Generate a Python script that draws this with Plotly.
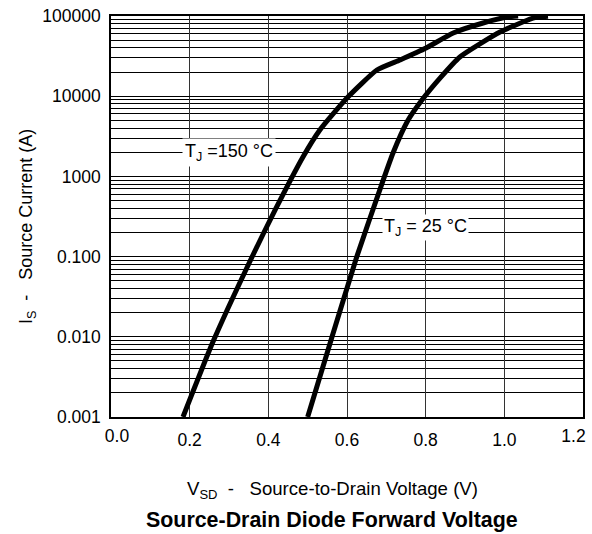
import plotly.graph_objects as go

# Curve data
v_150 = [0.183, 0.259, 0.3585, 0.417, 0.488, 0.531, 0.600, 0.676, 0.735, 0.801, 0.870, 0.946, 1.007, 1.035]
i_150 = [0.001, 0.0086, 0.099, 0.38, 1.75, 3.8, 9.5, 21.2, 28.3, 39.9, 61.4, 81.8, 97.0, 100.0]

v_25 = [0.500, 0.562, 0.625, 0.692, 0.717, 0.753, 0.791, 0.837, 0.887, 0.989, 1.073, 1.111]
i_25 = [0.001, 0.010, 0.100, 0.90, 1.96, 4.8, 9.0, 16.9, 30.8, 63.0, 94.0, 99.0]

x_ticks = [0.0, 0.2, 0.4, 0.6, 0.8, 1.0, 1.2]
x_tick_labels = ["0.0", "0.2", "0.4", "0.6", "0.8", "1.0", "1.2"]
y_ticks = [0.001, 0.01, 0.1, 1, 10, 100]
y_tick_labels = ["0.001", "0.010", "0.100", "1000", "10000", "100000"]
y_minor = [m * 10 ** e for e in range(-3, 2) for m in range(2, 10)]

FONT = "Liberation Sans, Arial, sans-serif"
TICK_SIZE = 17.5

fig = go.Figure()
fig.add_trace(go.Scatter(x=v_150, y=i_150, mode="lines", line=dict(color="black", width=5, shape="spline", smoothing=0.5),
                         showlegend=False))
fig.add_trace(go.Scatter(x=v_25, y=i_25, mode="lines", line=dict(color="black", width=5, shape="spline", smoothing=0.5),
                         showlegend=False))
# invisible trace carrying the end-label axis (end labels sit inside the frame in the original)
fig.add_trace(go.Scatter(x=[x_ticks[0], x_ticks[-1]], y=[y_ticks[0], y_ticks[0]], xaxis="x2", mode="lines",
                         line=dict(width=0), opacity=0, showlegend=False, hoverinfo="skip"))

fig.add_annotation(x=0.300, y=0.304, xref="x", yref="y", text="T<sub>J</sub> =150 °C", showarrow=False,
                   bgcolor="white", font=dict(size=18, color="black", family=FONT), borderpad=2)
fig.add_annotation(x=0.80, y=-0.643, xref="x", yref="y", text="T<sub>J</sub> = 25 °C", showarrow=False,
                   bgcolor="white", font=dict(size=18, color="black", family=FONT), borderpad=1)

fig.add_annotation(x=0.470, y=-0.182, xref="paper", yref="paper", xanchor="center", yanchor="middle",
                   text="V<sub>SD</sub>  -   Source-to-Drain Voltage (V)",
                   showarrow=False, font=dict(size=18.6, color="black", family=FONT))
fig.add_annotation(x=0.468, y=-0.257, xref="paper", yref="paper", xanchor="center", yanchor="middle",
                   text="<b>Source-Drain Diode Forward Voltage</b>",
                   showarrow=False, font=dict(size=21.4, color="black", family=FONT))
fig.add_annotation(x=-0.178, y=0.476, xref="paper", yref="paper", xanchor="center", yanchor="middle",
                   text="I<sub>S</sub>  -   Source Current (A)",
                   showarrow=False, textangle=-90, font=dict(size=18, color="black", family=FONT))

inner = slice(1, -1)
ends = [0, -1]

fig.update_layout(
    width=592, height=534,
    margin=dict(l=111, r=9, t=16, b=117, autoexpand=False),
    paper_bgcolor="white", plot_bgcolor="white",
    font=dict(family=FONT, color="black", size=TICK_SIZE),
    hovermode=False,
    xaxis=dict(range=[0, 1.2], tickvals=x_ticks[inner], ticktext=x_tick_labels[inner], showgrid=True,
               gridcolor="#333", gridwidth=1, automargin=False, ticklabeloverflow="allow",
               showline=True, linecolor="black", linewidth=1.5, mirror=True, ticks="", zeroline=False,
               tickfont=dict(size=TICK_SIZE), ticklabelstandoff=6),
    xaxis2=dict(overlaying="x", anchor="y", side="bottom", range=[-0.01577, 1.2250],
                tickvals=[x_ticks[i] for i in ends], ticktext=[x_tick_labels[i] for i in ends],
                showgrid=False, showline=False, zeroline=False, ticks="", automargin=False,
                ticklabeloverflow="allow", tickfont=dict(size=TICK_SIZE), ticklabelstandoff=6),
    yaxis=dict(type="log", range=[-3, 2], tickvals=y_ticks, ticktext=y_tick_labels, showgrid=True, gridcolor="black",
               gridwidth=1, showline=True, linecolor="black", linewidth=1.5, mirror=True, ticks="",
               tickfont=dict(size=TICK_SIZE), ticklabelstandoff=5, automargin=False, ticklabeloverflow="allow",
               minor=dict(tickvals=y_minor, showgrid=True, gridcolor="black", gridwidth=1, ticks="")),
)

fig.write_html("out.html", config={"displayModeBar": False},
               post_script="document.body.style.margin='0px';")
